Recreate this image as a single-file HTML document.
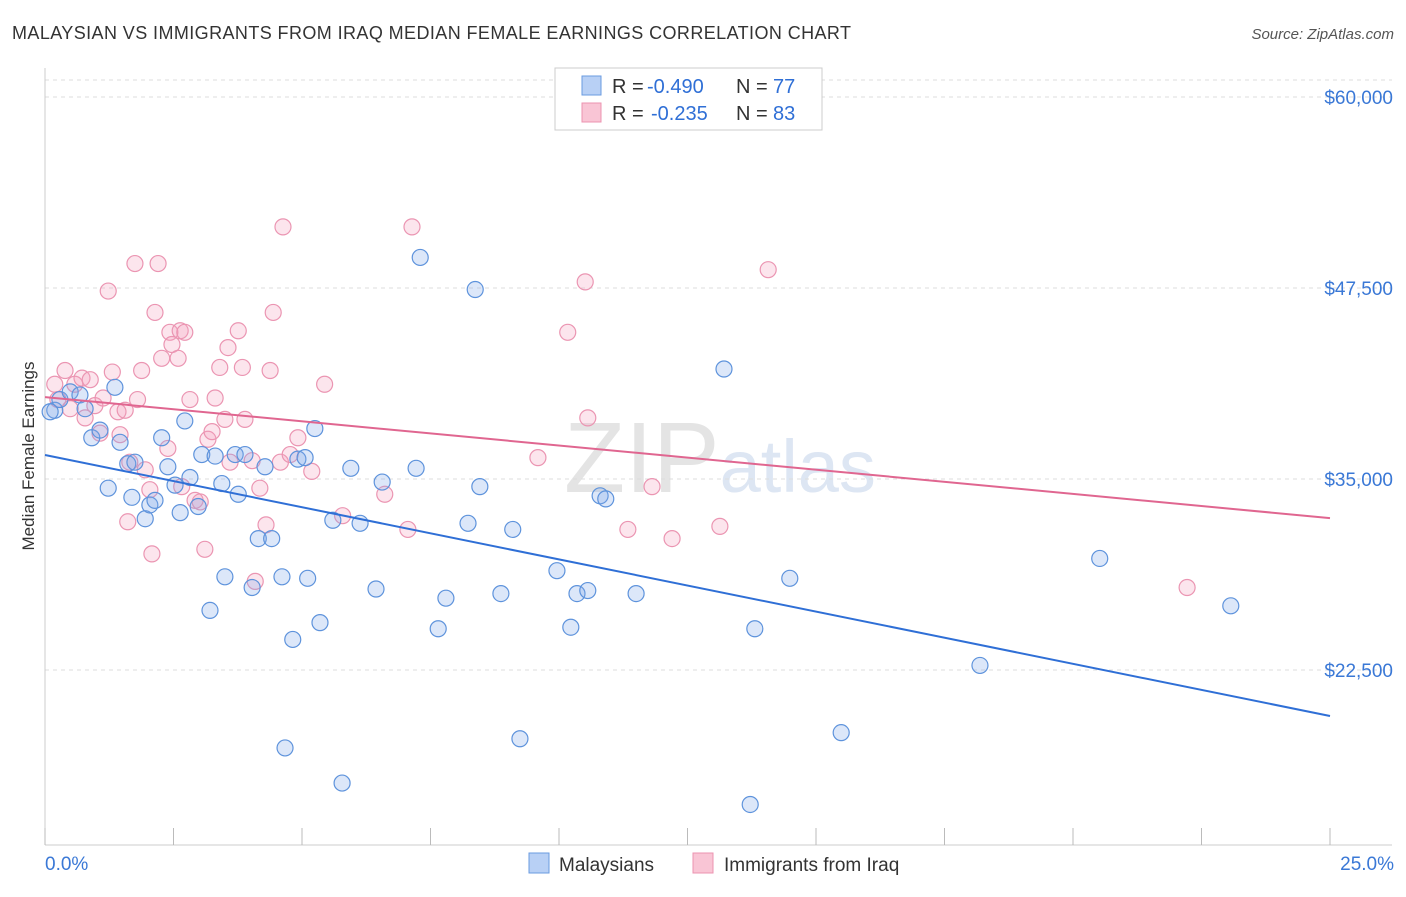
<!DOCTYPE html>
<html><head><meta charset="utf-8"><style>
body{margin:0;background:#fff;font-family:"Liberation Sans",sans-serif;}
svg text{font-family:"Liberation Sans",sans-serif;}
</style></head><body>
<svg id="chart" width="1406" height="892" xmlns="http://www.w3.org/2000/svg">
<text x="12" y="39" font-size="18" fill="#333" textLength="839">MALAYSIAN VS IMMIGRANTS FROM IRAQ MEDIAN FEMALE EARNINGS CORRELATION CHART</text>
<text x="1394" y="39" font-size="15" fill="#555" text-anchor="end" font-style="italic">Source: ZipAtlas.com</text>
<text x="720" y="492" font-size="100" fill="#e4e4e4" text-anchor="middle" font-family="Liberation Serif">ZIP<tspan fill="#dde6f3" font-family="Liberation Sans" font-size="74">atlas</tspan></text>
<g id="grid"></g>
<g id="axes"></g>
<g id="marks"></g>
<text transform="translate(34,456) rotate(-90)" font-size="17" fill="#333" text-anchor="middle">Median Female Earnings</text>
<g>
<rect x="555" y="68" width="267" height="62" fill="#fff" stroke="#ccc"/>
<rect x="582" y="76" width="19" height="19" fill="#b8d0f5" stroke="#6a9be0"/>
<rect x="582" y="103" width="19" height="19" fill="#f9c5d5" stroke="#ec93b0"/>
<text x="612" y="93" font-size="20" fill="#333">R =</text>
<text x="647" y="93" font-size="20" fill="#2f6fd6">-0.490</text>
<text x="736" y="93" font-size="20" fill="#333">N =</text>
<text x="773" y="93" font-size="20" fill="#2f6fd6">77</text>
<text x="612" y="120" font-size="20" fill="#333">R =</text>
<text x="651" y="120" font-size="20" fill="#2f6fd6">-0.235</text>
<text x="736" y="120" font-size="20" fill="#333">N =</text>
<text x="773" y="120" font-size="20" fill="#2f6fd6">83</text>
</g>
<g>
<rect x="529" y="853" width="20" height="20" fill="#b8d0f5" stroke="#6a9be0"/>
<text x="559" y="871" font-size="19" fill="#333">Malaysians</text>
<rect x="693" y="853" width="20" height="20" fill="#f9c5d5" stroke="#ec93b0"/>
<text x="724" y="871" font-size="19" fill="#333">Immigrants from Iraq</text>
</g>
</svg>
<script>
const yTicks=[60000,47500,35000,22500];
const yTickLabels=["$60,000","$47,500","$35,000","$22,500"];
const xTicks=[0,2.5,5,7.5,10,12.5,15,17.5,20,22.5,25];
const blueX=[0.19,0.1,0.29,0.49,0.68,0.78,0.91,1.07,1.36,1.46,1.23,1.61,1.75,1.69,1.95,2.04,2.14,2.27,2.39,2.53,2.63,2.72,2.82,2.98,3.05,3.21,3.31,3.44,3.5,3.7,3.76,3.89,4.03,4.15,4.28,4.41,4.61,4.67,4.82,4.92,5.06,5.11,5.25,5.35,5.6,5.95,5.78,6.13,6.44,6.56,7.22,7.3,7.65,7.8,8.23,8.37,8.46,8.87,9.1,9.24,9.96,10.23,10.35,10.56,10.8,10.91,11.5,13.21,13.81,13.72,14.49,15.49,18.19,20.52,23.07];
const blueY=[39.5,39.4,40.2,40.7,40.5,39.6,37.7,38.2,41.0,37.4,34.4,36.0,36.1,33.8,32.4,33.3,33.6,37.7,35.8,34.6,32.8,38.8,35.1,33.2,36.6,26.4,36.5,34.7,28.6,36.6,34.0,36.6,27.9,31.1,35.8,31.1,28.6,17.4,24.5,36.3,36.4,28.5,38.3,25.6,32.3,35.7,15.1,32.1,27.8,34.8,35.7,49.5,25.2,27.2,32.1,47.4,34.5,27.5,31.7,18.0,29.0,25.3,27.5,27.7,33.9,33.7,27.5,42.2,25.2,13.7,28.5,18.4,22.8,29.8,26.7];
const pinkX=[0.19,0.25,0.39,0.58,0.49,0.78,0.72,0.88,0.97,1.07,1.13,1.23,1.31,1.42,1.46,1.56,1.61,1.65,1.8,1.75,1.88,1.95,2.04,2.08,2.14,2.2,2.27,2.39,2.43,2.47,2.59,2.63,2.66,2.72,2.82,2.92,3.02,3.11,3.17,3.25,3.31,3.4,3.5,3.56,3.6,3.76,3.84,3.89,4.03,4.09,4.18,4.3,4.38,4.44,4.58,4.63,4.77,4.92,5.19,5.44,5.79,6.61,7.06,7.14,9.59,10.17,10.51,10.56,11.34,11.81,12.2,13.13,14.07,22.22];
const pinkY=[41.2,40.2,42.1,41.2,39.6,39.0,41.6,41.5,39.8,38.0,40.3,47.3,42.0,39.4,37.9,39.5,32.2,36.1,40.2,49.1,42.1,35.6,34.3,30.1,45.9,49.1,42.9,37.0,44.6,43.8,42.9,44.7,34.5,44.6,40.2,33.6,33.5,30.4,37.6,38.1,40.3,42.3,38.9,43.6,36.1,44.7,42.3,38.9,36.2,28.3,34.4,32.0,42.1,45.9,36.1,51.5,36.6,37.7,35.5,41.2,32.6,34.0,31.7,51.5,36.4,44.6,47.9,39.0,31.7,34.5,31.1,31.9,48.7,27.9];
const blueTrend=[36.57,19.49];
const pinkTrend=[40.36,32.44];
const NS="http://www.w3.org/2000/svg";
const X=v=>45+v/25*1285;
const Y=v=>97+(60-v)*15.28;
function mk(tag,at,parent){const e=document.createElementNS(NS,tag);for(const k in at)e.setAttribute(k,at[k]);parent.appendChild(e);return e;}
const grid=document.getElementById('grid'),axes=document.getElementById('axes'),marks=document.getElementById('marks');
let gl=mk('line',{x1:45,x2:1392,y1:80,y2:80,stroke:'#ddd','stroke-dasharray':'4,4'},grid);

yTicks.forEach((t,i)=>{
 const y=Y(t/1000);
 const l=mk('line',{x1:45,x2:1392,y1:y,y2:y,stroke:'#ddd','stroke-dasharray':'4,4'},grid);
 
 
 const tx=mk('text',{x:1393,y:y+7,'font-size':19,fill:'#3a78d6','text-anchor':'end'},axes);
 tx.textContent=yTickLabels[i];
 
 
});
let ax=mk('line',{x1:45,x2:45,y1:68,y2:845,stroke:'#ccc'},axes);

let bx=mk('line',{x1:45,x2:1392,y1:845,y2:845,stroke:'#ccc'},axes);

xTicks.forEach(t=>{
 const l=mk('line',{x1:X(t),x2:X(t),y1:828,y2:845,stroke:'#bbb'},axes);
 
 
});
[[0,'0.0%','start',45],[25,'25.0%','end',1394]].forEach(a=>{
 const t=mk('text',{x:a[3],y:870,'font-size':19,fill:'#3a78d6','text-anchor':a[2]},axes);
 t.textContent=a[1];
 
 
});
function pts(xs,ys,fill,stroke,name){xs.forEach((x,i)=>{
 const c=mk('circle',{cx:X(x),cy:Y(ys[i]),r:8,fill:fill,stroke:stroke,'stroke-width':1.2},marks);
 
 
});}
pts(pinkX,pinkY,'rgba(244,160,190,0.28)','#eb95b2','iraq-point');
pts(blueX,blueY,'rgba(130,170,235,0.28)','#5e93dc','malaysian-point');
let t1=mk('line',{x1:X(0),y1:Y(blueTrend[0]),x2:X(25),y2:Y(blueTrend[1]),stroke:'#2f6fd6','stroke-width':2},marks);

let t2=mk('line',{x1:X(0),y1:Y(pinkTrend[0]),x2:X(25),y2:Y(pinkTrend[1]),stroke:'#e06690','stroke-width':2},marks);

</script>
</body></html>
